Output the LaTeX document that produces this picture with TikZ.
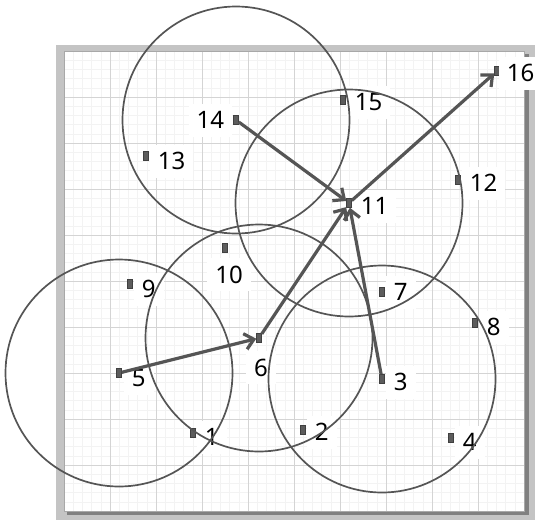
\documentclass[tikz,border=0pt]{standalone}
\usepackage{fontspec}
\setmainfont{Noto Sans}
\usetikzlibrary{arrows.meta,positioning}
\definecolor{framegray}{HTML}{C4C4C4}
\definecolor{shadowgray}{HTML}{808080}
\definecolor{rimgray}{HTML}{A8A8A8}
\definecolor{gridmajor}{HTML}{D4D4D4}
\definecolor{gridminor}{HTML}{F3F3F3}
\definecolor{linegray}{HTML}{555555}
\definecolor{devgray}{HTML}{5C5C5C}

\begin{document}
\begin{tikzpicture}[
  x=1pt,y=-1pt,
  dev/.style={draw=black!75,fill=devgray,line width=0.5pt,minimum width=5pt,minimum height=9pt,inner sep=0pt},
  tag/.style={fill=white,inner sep=8pt,text height=17pt,text depth=0pt,font=\fontsize{24}{26}\selectfont},
  reach/.style={linegray,line width=1.7pt},
  hop/.style={linegray,line width=3.2pt,-{Straight Barb[length=9pt,width=16pt]}},
]
  \useasboundingbox (0,0) rectangle (535,520);

  % Frame with shadow
  \fill[framegray] (56,45) rectangle (535,520);
  \fill[shadowgray] (67,54) rectangle (529,515);
  \fill[white] (64,51) rectangle (524,511);

  % Grid
  \begin{scope}[shift={(64,51)}]
    \draw[gridminor,line width=0.4pt] (0,0) grid[step=9.2pt] (460,460);
    \draw[gridmajor,line width=0.9pt] (0,0) grid[step=46pt] (460,460);
  \end{scope}
  \draw[rimgray,line width=0.8pt] (64,51) rectangle (524,511);

  % Devices
  \node[dev] (n1) at (193,433) {};
  \node[dev] (n2) at (303,430) {};
  \node[dev] (n3) at (382,379) {};
  \node[dev] (n4) at (451,438) {};
  \node[dev] (n5) at (119,373) {};
  \node[dev] (n6) at (259,338) {};
  \node[dev] (n7) at (382,292) {};
  \node[dev] (n8) at (475,323) {};
  \node[dev] (n9) at (130,284) {};
  \node[dev] (n10) at (225,248) {};
  \node[dev] (n11) at (349,203) {};
  \node[dev] (n12) at (458,180) {};
  \node[dev] (n13) at (146,156) {};
  \node[dev] (n14) at (236,120) {};
  \node[dev] (n15) at (343,100) {};
  \node[dev] (n16) at (497,71) {};

  % Labels
  \node[tag,right=1pt of n1,yshift=-4pt] (l1) {1};
  \node[tag,right=1pt of n2,yshift=-2pt] (l2) {2};
  \node[tag,right=1pt of n3,yshift=-3pt] (l3) {3};
  \node[tag,right=1pt of n4,yshift=-4pt] (l4) {4};
  \node[tag,right=2pt of n5,yshift=-5pt] (l5) {5};
  \node[tag,below=8.5pt of n6,xshift=2pt] (l6) {6};
  \node[tag,right=1pt of n7] (l7) {7};
  \node[tag,right=1pt of n8,yshift=-4pt] (l8) {8};
  \node[tag,right=1pt of n9,yshift=-5pt] (l9) {9};
  \node[tag,below=5.5pt of n10,xshift=4pt] (l10) {10};
  \node[tag,right=1pt of n11,yshift=-3pt] (l11) {11};
  \node[tag,right=1pt of n12,yshift=-3pt] (l12) {12};
  \node[tag,right=1pt of n13,yshift=-5pt] (l13) {13};
  \node[tag,left=1pt of n14] (l14) {14};
  \node[tag,right=1pt of n15,yshift=-2pt] (l15) {15};
  \node[tag,right=-1pt of n16,yshift=-2pt] (l16) {16};

  % Ranges
  \draw[reach] (n14) circle[radius=113.5pt];
  \draw[reach] (n11) circle[radius=113.5pt];
  \draw[reach] (n6) circle[radius=113.5pt];
  \draw[reach] (n5) circle[radius=113.5pt];
  \draw[reach] (n3) circle[radius=113.5pt];

  % Hops
  \draw[hop] (n5) -- (n6);
  \draw[hop] (n6) -- (n11);
  \draw[hop] (n3) -- (n11);
  \draw[hop] (n14) -- (n11);
  \draw[hop] (n11) -- (n16);
\end{tikzpicture}
\end{document}
